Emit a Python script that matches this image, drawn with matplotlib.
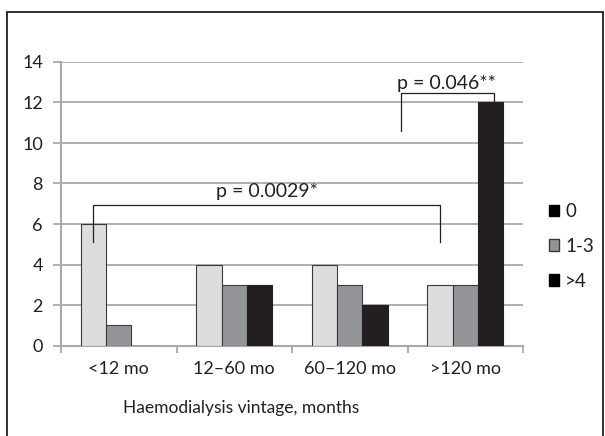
import numpy as np
import matplotlib.pyplot as plt
from matplotlib.patches import Patch, Rectangle

plt.rcParams['font.family'] = ['Lato', 'DejaVu Sans']

categories = ['<12 mo', '12\u201360 mo', '60\u2013120 mo', '>120 mo']
grp_0 = [6, 4, 4, 3]
grp_1_3 = [1, 3, 3, 3]
grp_4 = [0, 3, 2, 12]
legend_labels = ['0', '1-3', '>4']

W, H = 605, 436
fig = plt.figure(figsize=(W / 100, H / 100), dpi=100)
ax = fig.add_axes([61 / W, 1 - 345.5 / H, 462 / W, 283.5 / H])

grid_c = '#a7a9ac'
txt_c = '#231f20'
x = np.arange(len(categories))
w = 0.219
ax.bar(x - w, grp_0, w, color='#dcdddf', edgecolor='#3a3a3a', linewidth=0.8, zorder=3)
ax.bar(x, grp_1_3, w, color='#939598', edgecolor='#3a3a3a', linewidth=0.8, zorder=3)
ax.bar(x + w, grp_4, w, color='#231f20', edgecolor='#231f20', linewidth=0.8, zorder=3)

ax.set_xlim(-0.5, 3.5)
ax.set_ylim(0, 14)
ax.set_yticks(range(0, 15, 2))
ax.yaxis.grid(True, color=grid_c, linewidth=1.3, zorder=0)
ax.tick_params(axis='y', length=6, width=1.3, color=grid_c, pad=7, labelsize=13, labelcolor=txt_c)

ax.set_xticks(np.arange(-0.5, 4, 1))
ax.set_xticklabels([])
ax.set_xticks(x, minor=True)
ax.set_xticklabels(categories, minor=True)
ax.tick_params(axis='x', which='major', length=5, width=1.3, color=grid_c)
ax.tick_params(axis='x', which='minor', length=0, pad=11, labelsize=13, labelcolor=txt_c)

for s in ['top', 'right']:
    ax.spines[s].set_visible(False)
for s in ['left', 'bottom']:
    ax.spines[s].set_color(grid_c)
    ax.spines[s].set_linewidth(1.5)

# significance brackets
ax.plot([-w, -w, 3 - w, 3 - w], [5.1, 6.95, 6.95, 5.1], color=txt_c, lw=0.9, zorder=4)
ax.text(1.5 - w, 7.2, 'p = 0.0029*', ha='center', va='bottom', fontsize=14, color=txt_c)
ax.plot([2.44, 2.44, 3 + w + 0.03, 3 + w + 0.03], [10.6, 12.45, 12.45, 12.0], color=txt_c, lw=0.9, zorder=4)
ax.text(2.84, 12.5, 'p = 0.046**', ha='center', va='bottom', fontsize=14, color=txt_c)

handles = [Patch(facecolor='black', edgecolor='black'),
           Patch(facecolor='#939598', edgecolor='#3a3a3a'),
           Patch(facecolor='black', edgecolor='black')]
ax.legend(handles, legend_labels, loc='center left', bbox_to_anchor=(1.02, 0.35), frameon=False,
          handlelength=0.55, handleheight=0.55, handletextpad=0.3, labelspacing=0.95,
          fontsize=13.5, labelcolor=txt_c)

fig.text(241 / W, 1 - 408 / H, 'Haemodialysis vintage, months', ha='center', va='center',
         fontsize=12.5, color=txt_c)

fig.patches.append(Rectangle((7 / W, -0.1), 596 / W, 1.1 - 12 / H, transform=fig.transFigure,
                             fill=False, edgecolor='#231f20', linewidth=1.3))

fig.savefig('out.png', dpi=100)
